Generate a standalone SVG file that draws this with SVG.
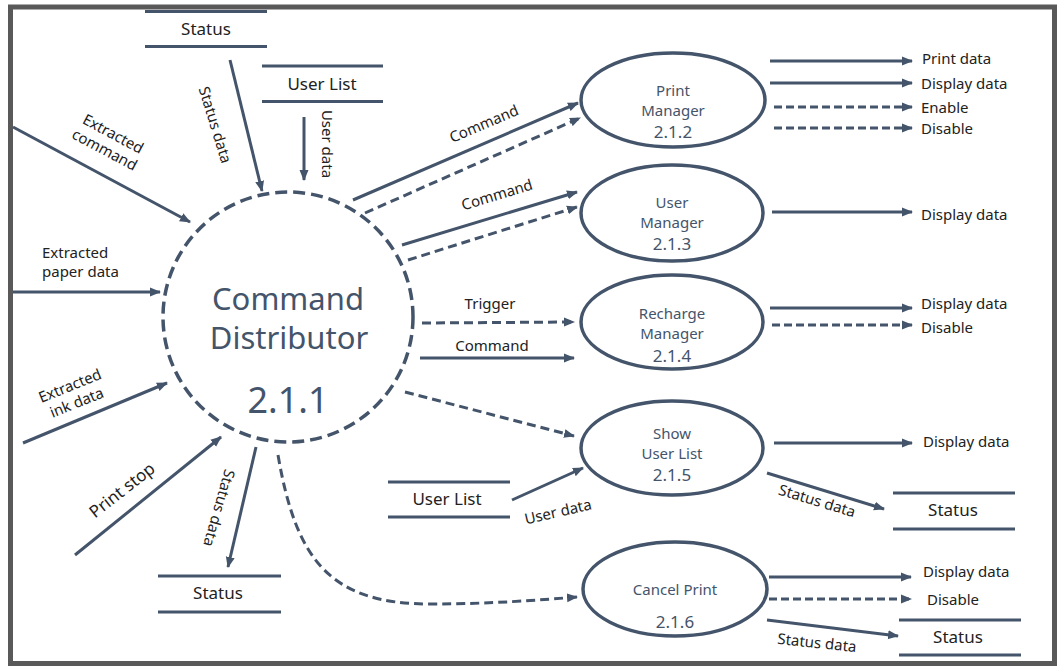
<svg xmlns="http://www.w3.org/2000/svg" width="1059" height="667" viewBox="0 0 1059 667">
<defs>
<style>
.ln{stroke:#44546a;stroke-width:3;fill:none}
.ds{stroke:#44546a;stroke-width:3;fill:none;stroke-dasharray:9 5}
.dss{stroke:#44546a;stroke-width:3;fill:none;stroke-dasharray:8 4}
.ell{stroke:#44546a;stroke-width:3.5;fill:#fff}
.st{stroke:#44546a;stroke-width:3}
.nt{font-family:"Noto Sans","Open Sans","DejaVu Sans",sans-serif;fill:#44546a;text-anchor:middle}
.nm{font-size:15px}
.nn{font-size:17px}
.lb{font-family:"Noto Sans","Open Sans","DejaVu Sans",sans-serif;fill:#222;font-size:15px}
.lbm{font-family:"Noto Sans","Open Sans","DejaVu Sans",sans-serif;fill:#222;font-size:15px;text-anchor:middle}
.stt{font-family:"Noto Sans","Open Sans","DejaVu Sans",sans-serif;fill:#222;font-size:17px;text-anchor:middle}
</style>
<marker id="ah" markerUnits="userSpaceOnUse" markerWidth="11" markerHeight="10" refX="10" refY="5" orient="auto">
<path d="M0,0.5 L11,5 L0,9.5 z" fill="#44546a"/>
</marker>
</defs>
<rect x="0" y="0" width="1059" height="667" fill="#fff"/>

<g id="connectors">
<line class="ln" x1="13" y1="127" x2="190" y2="222" marker-end="url(#ah)"/>
<line class="ln" x1="230" y1="60" x2="262" y2="191" marker-end="url(#ah)"/>
<line class="ln" x1="304" y1="117" x2="304" y2="180" marker-end="url(#ah)"/>
<line class="ln" x1="13" y1="292" x2="160" y2="292" marker-end="url(#ah)"/>
<line class="ln" x1="23" y1="443" x2="167" y2="383" marker-end="url(#ah)"/>
<line class="ln" x1="75" y1="555" x2="221" y2="437" marker-end="url(#ah)"/>
<line class="ln" x1="256" y1="447" x2="228" y2="567" marker-end="url(#ah)"/>
<line class="ln" x1="353" y1="200" x2="578" y2="103" marker-end="url(#ah)"/>
<line class="ds" x1="365" y1="213" x2="580" y2="118" marker-end="url(#ah)"/>
<line class="ln" x1="402" y1="245" x2="577" y2="192" marker-end="url(#ah)"/>
<line class="ds" x1="408" y1="260" x2="577" y2="207" marker-end="url(#ah)"/>
<line class="ds" x1="422" y1="323" x2="574" y2="322" marker-end="url(#ah)"/>
<line class="ln" x1="420" y1="358" x2="574" y2="358" marker-end="url(#ah)"/>
<line class="ds" x1="405" y1="392" x2="574" y2="436" marker-end="url(#ah)"/>
<line class="ln" x1="512" y1="500" x2="583" y2="468" marker-end="url(#ah)"/>
<path class="ds" d="M278,455 C296,560 330,604 430,604 C490,604 540,600 577,597" marker-end="url(#ah)"/>
<line class="ln" x1="770" y1="61" x2="912" y2="61" marker-end="url(#ah)"/>
<line class="ln" x1="770" y1="83" x2="912" y2="83" marker-end="url(#ah)"/>
<line class="dss" x1="774" y1="107" x2="912" y2="107" marker-end="url(#ah)"/>
<line class="dss" x1="774" y1="128" x2="912" y2="128" marker-end="url(#ah)"/>
<line class="ln" x1="772" y1="212" x2="912" y2="212" marker-end="url(#ah)"/>
<line class="ln" x1="770" y1="308" x2="912" y2="308" marker-end="url(#ah)"/>
<line class="dss" x1="772" y1="325" x2="912" y2="325" marker-end="url(#ah)"/>
<line class="ln" x1="774" y1="443" x2="912" y2="443" marker-end="url(#ah)"/>
<line class="ln" x1="767" y1="473" x2="884" y2="509" marker-end="url(#ah)"/>
<line class="ln" x1="769" y1="577" x2="911" y2="577" marker-end="url(#ah)"/>
<line class="dss" x1="769" y1="599" x2="911" y2="599" marker-end="url(#ah)"/>
<line class="ln" x1="767" y1="620" x2="898" y2="636" marker-end="url(#ah)"/>

<g transform="translate(113,134) rotate(28)"><text class="lbm" y="5">Extracted</text><text class="lbm" y="23">command</text></g>
<text class="lb" x="42" y="258">Extracted</text>
<text class="lb" x="42" y="277">paper data</text>
<g transform="translate(70,386) rotate(-22)"><text class="lbm" y="5">Extracted</text><text class="lbm" y="23">ink data</text></g>
<text class="lbm" style="font-size:17px" transform="translate(122,490) rotate(-38)" y="6">Print stop</text>
<text class="lbm" transform="translate(215,125) rotate(73)" y="5">Status data</text>
<text class="lbm" transform="translate(327,144) rotate(90)" y="5">User data</text>
<text class="lbm" transform="translate(219,508) rotate(106)" y="5">Status data</text>
<text class="lbm" transform="translate(484,124) rotate(-23)" y="5">Command</text>
<text class="lbm" transform="translate(497,195) rotate(-17)" y="5">Command</text>
<text class="lbm" x="490" y="309">Trigger</text>
<text class="lbm" x="492" y="351">Command</text>
<text class="lbm" transform="translate(558,512) rotate(-13)" y="5">User data</text>
<text class="lbm" transform="translate(817,501) rotate(17)" y="5">Status data</text>
<text class="lbm" transform="translate(817,643) rotate(6)" y="5">Status data</text>
<text class="lb" x="922" y="64">Print data</text>
<text class="lb" x="921" y="89">Display data</text>
<text class="lb" x="921" y="113">Enable</text>
<text class="lb" x="921" y="134">Disable</text>
<text class="lb" x="921" y="220">Display data</text>
<text class="lb" x="921" y="309">Display data</text>
<text class="lb" x="921" y="333">Disable</text>
<text class="lb" x="923" y="447">Display data</text>
<text class="lb" x="923" y="577">Display data</text>
<text class="lb" x="927" y="605">Disable</text>
</g>

<g id="n211">
<circle cx="288" cy="317" r="125" fill="none" stroke="#44546a" stroke-width="3.5" stroke-dasharray="12 6"/>
<text class="nt" x="288" y="310" font-size="31">Command</text>
<text class="nt" x="289" y="349" font-size="31">Distributor</text>
<text class="nt" x="288" y="413" font-size="36">2.1.1</text>
</g>
<g id="n212">
<ellipse class="ell" cx="673" cy="100" rx="92" ry="47"/>
<text class="nt nm" x="673" y="96">Print</text>
<text class="nt nm" x="673" y="116">Manager</text>
<text class="nt nn" x="673" y="138">2.1.2</text>
</g>
<g id="n213">
<ellipse class="ell" cx="672" cy="213" rx="91" ry="48"/>
<text class="nt nm" x="672" y="208">User</text>
<text class="nt nm" x="672" y="228">Manager</text>
<text class="nt nn" x="672" y="250">2.1.3</text>
</g>
<g id="n214">
<ellipse class="ell" cx="672" cy="322" rx="91" ry="47"/>
<text class="nt nm" x="672" y="319">Recharge</text>
<text class="nt nm" x="672" y="339">Manager</text>
<text class="nt nn" x="672" y="362">2.1.4</text>
</g>
<g id="n215">
<ellipse class="ell" cx="672" cy="448" rx="91" ry="47"/>
<text class="nt nm" x="672" y="439">Show</text>
<text class="nt nm" x="672" y="459">User List</text>
<text class="nt nn" x="672" y="481">2.1.5</text>
</g>
<g id="n216">
<ellipse class="ell" cx="675" cy="589" rx="92" ry="47"/>
<text class="nt nm" x="675" y="595">Cancel Print</text>
<text class="nt nn" x="675" y="628">2.1.6</text>
</g>

<g id="store-status-top">
<line class="st" x1="145" y1="11.5" x2="267" y2="11.5"/>
<line class="st" x1="145" y1="46.5" x2="267" y2="46.5"/>
<text class="stt" x="206" y="35">Status</text>
</g>
<g id="store-userlist-top">
<line class="st" x1="262" y1="66" x2="383" y2="66"/>
<line class="st" x1="262" y1="101.5" x2="383" y2="101.5"/>
<text class="stt" x="322" y="90">User List</text>
</g>
<g id="store-status-bottom">
<line class="st" x1="158" y1="576" x2="281" y2="576"/>
<line class="st" x1="158" y1="612" x2="281" y2="612"/>
<text class="stt" x="218" y="599">Status</text>
</g>
<g id="store-userlist-bottom">
<line class="st" x1="388" y1="482" x2="510" y2="482"/>
<line class="st" x1="388" y1="517" x2="510" y2="517"/>
<text class="stt" x="447" y="505">User List</text>
</g>
<g id="store-status-right1">
<line class="st" x1="893" y1="493" x2="1015" y2="493"/>
<line class="st" x1="893" y1="529" x2="1015" y2="529"/>
<text class="stt" x="953" y="516">Status</text>
</g>
<g id="store-status-right2">
<line class="st" x1="899" y1="620" x2="1021" y2="620"/>
<line class="st" x1="899" y1="655" x2="1021" y2="655"/>
<text class="stt" x="958" y="643">Status</text>
</g>

<rect x="10.5" y="7" width="1044" height="656.5" fill="none" stroke="#595959" stroke-width="5"/>
</svg>
